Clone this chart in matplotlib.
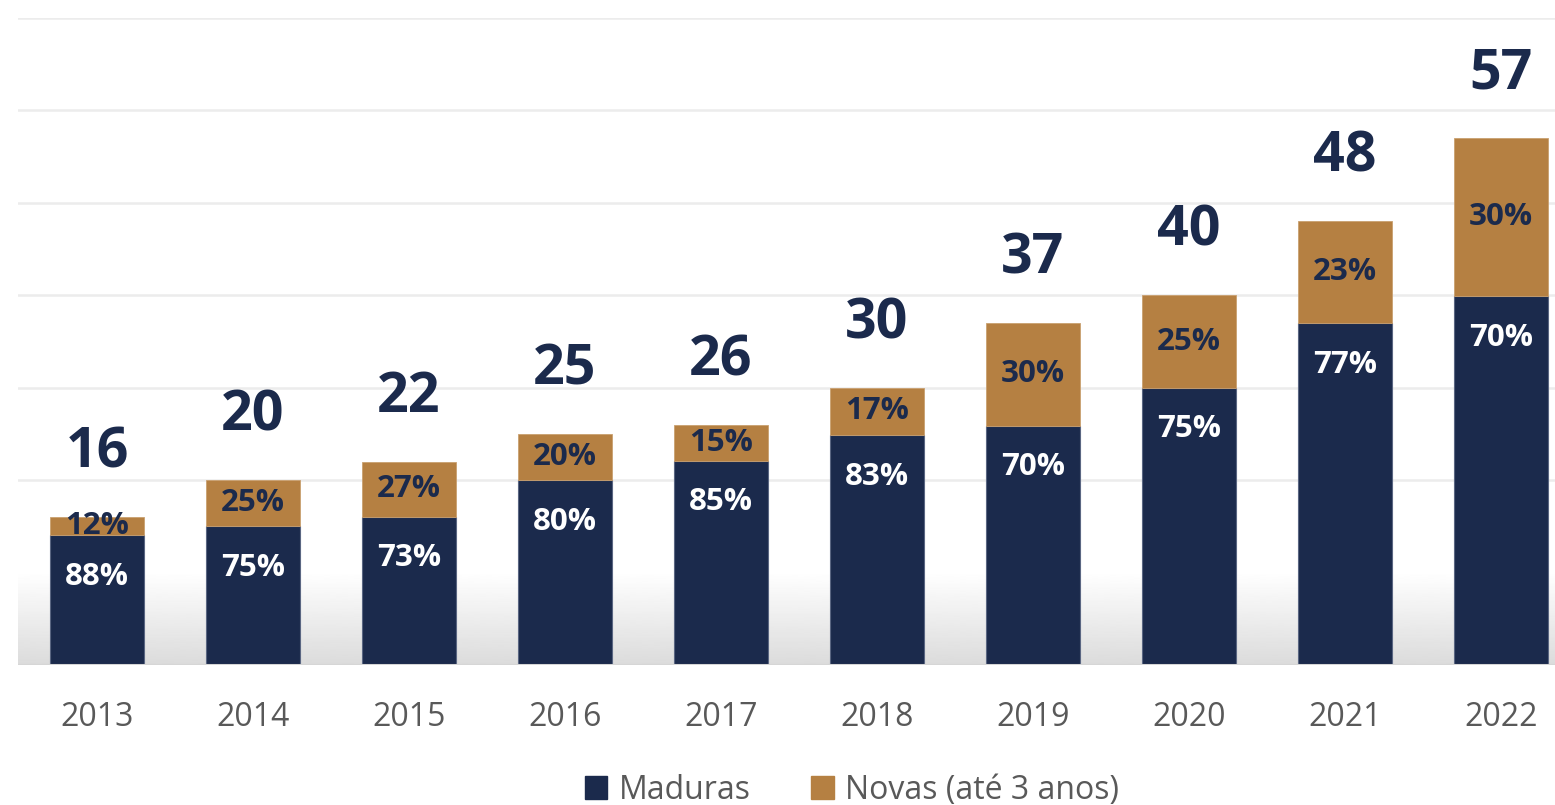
import numpy as np
import matplotlib.pyplot as plt
from matplotlib.patches import Patch

# data
years = ['2013', '2014', '2015', '2016', '2017', '2018', '2019', '2020', '2021', '2022']
totals = np.array([16, 20, 22, 25, 26, 30, 37, 40, 48, 57])
pct_maduras = np.array([88, 75, 73, 80, 85, 83, 70, 75, 77, 70])
pct_novas = np.array([12, 25, 27, 20, 15, 17, 30, 25, 23, 30])

navy = '#1b2a4c'
brown = '#b58042'
gray_text = '#595959'

plt.rcParams['font.family'] = ['Open Sans', 'DejaVu Sans']

maduras = totals * pct_maduras / 100
novas = totals * pct_novas / 100
x = np.arange(len(years))

fig = plt.figure(figsize=(15.55, 8.05), dpi=100)
ax = fig.add_axes([18 / 1555, 1 - 665 / 805, 1 - 18 / 1555, (665 - 18) / 805])
ax.set_xlim(-0.506, 9.346)
ax.set_ylim(0, 70)

# soft grey fade near the floor
grad = np.linspace(0.86, 1.0, 100).reshape(-1, 1)
ax.imshow(grad, extent=(-0.506, 9.346, 0, 10), origin='lower', cmap='gray',
          vmin=0, vmax=1, aspect='auto', zorder=0.5)

for y in range(10, 80, 10):
    ax.axhline(y, color='#ececec', lw=1.8, zorder=0.3)
ax.axhline(0, color='#d6d6d6', lw=2.2, zorder=3)

w = 0.6
ax.bar(x, maduras, w, color=navy, edgecolor='#5a6682', lw=0.8, zorder=2, label='Maduras')
ax.bar(x, novas, w, bottom=maduras, color=brown, edgecolor='#c9a070', lw=0.6, zorder=2,
       label='Novas (até 3 anos)')

for i in range(len(years)):
    ax.annotate(str(totals[i]), (x[i], totals[i]), xytext=(0, 46), textcoords='offset points',
                ha='center', va='center', fontsize=40, fontweight='bold', color=navy, zorder=5)
    ax.annotate(f'{pct_maduras[i]}%', (x[i], maduras[i]), xytext=(0, -30), textcoords='offset points',
                ha='center', va='center', fontsize=22.5, fontweight='bold', color='white', zorder=5)
    ax.text(x[i], maduras[i] + novas[i] / 2, f'{pct_novas[i]}%', ha='center', va='center',
            fontsize=22.5, fontweight='bold', color=navy, zorder=5)

ax.set_xticks(x)
ax.set_xticklabels(years, fontsize=23, color=gray_text)
ax.tick_params(axis='x', length=0, pad=26)
ax.set_yticks([])
for s in ax.spines.values():
    s.set_visible(False)

handles = [Patch(color=navy, label='Maduras'), Patch(color=brown, label='Novas (até 3 anos)')]
leg = fig.legend(handles=handles, loc='center', bbox_to_anchor=(852 / 1555, 1 - 790 / 805),
                 ncol=2, frameon=False, fontsize=23, handlelength=0.7, handleheight=0.7,
                 handletextpad=0.35, columnspacing=1.9, borderaxespad=0)
for t in leg.get_texts():
    t.set_color(gray_text)

fig.savefig('out.png', dpi=100)
